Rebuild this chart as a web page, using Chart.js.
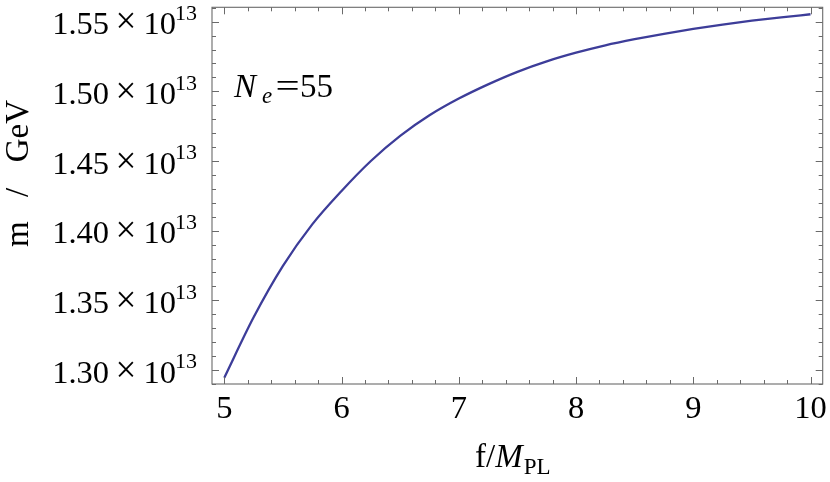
<!DOCTYPE html>
<html>
<head>
<meta charset="utf-8">
<script src="https://cdn.jsdelivr.net/npm/chart.js@4"></script>
<style>
html,body{margin:0;padding:0;background:#fff;}
#wrap{width:830px;height:482px;}
</style>
</head>
<body>
<div id="wrap"><canvas id="c" width="830" height="482"></canvas></div>
<script>
// data (f/M_PL vs m in units of 1e13 GeV)
const fValues = [5.00,5.25,5.50,5.75,6.00,6.25,6.50,6.75,7.00,7.25,7.50,7.75,8.00,8.25,8.50,8.75,9.00,9.25,9.50,9.75,10.00];
const mValues = [1.2945,1.3378,1.3747,1.4045,1.4285,1.4500,1.4680,1.4828,1.4948,1.5050,1.5140,1.5215,1.5277,1.5330,1.5374,1.5413,1.5448,1.5479,1.5507,1.5531,1.5553];
const xTickValues = [5,6,7,8,9,10];
const xTickLabels = ['5','6','7','8','9','10'];
const yTickValues = [1.30,1.35,1.40,1.45,1.50,1.55];
const yTickLabels = ['1.30','1.35','1.40','1.45','1.50','1.55'];
const yExponent = '13';
const xMinorStep = 0.2, yMinorStep = 0.01;
const xRange = [4.895, 10.104];
const yRange = [1.28995, 1.5603];

const SERIF = '"Liberation Serif", "DejaVu Serif", serif';
const FRAME = '#6a6a6a';

const framePlugin = {
  id: 'framePlugin',
  afterDraw(chart) {
    const ctx = chart.ctx;
    const a = chart.chartArea;
    const xs = chart.scales.x, ys = chart.scales.y;
    ctx.save();
    // frame
    ctx.strokeStyle = FRAME;
    ctx.lineWidth = 1.1;
    ctx.strokeRect(a.left, a.top, a.right - a.left, a.bottom - a.top);
    // x ticks
    ctx.lineWidth = 1;
    const xStart = Math.ceil(xRange[0] / xMinorStep - 1e-6);
    const xEnd = Math.floor(xRange[1] / xMinorStep + 1e-6);
    for (let i = xStart; i <= xEnd; i++) {
      const v = i * xMinorStep;
      const isMajor = Math.abs(v - Math.round(v)) < 1e-6;
      const len = isMajor ? 7 : 4;
      const px = Math.round(xs.getPixelForValue(v)) + 0.5;
      ctx.beginPath();
      ctx.moveTo(px, a.bottom); ctx.lineTo(px, a.bottom - len);
      ctx.moveTo(px, a.top); ctx.lineTo(px, a.top + len);
      ctx.stroke();
    }
    // y ticks
    const yStart = Math.ceil(yRange[0] / yMinorStep - 1e-6);
    const yEnd = Math.floor(yRange[1] / yMinorStep + 1e-6);
    for (let i = yStart; i <= yEnd; i++) {
      const v = i * yMinorStep;
      const isMajor = (i % 5) === 0;
      const len = isMajor ? 7 : 4;
      const py = Math.round(ys.getPixelForValue(v)) + 0.5;
      ctx.beginPath();
      ctx.moveTo(a.left, py); ctx.lineTo(a.left + len, py);
      ctx.moveTo(a.right, py); ctx.lineTo(a.right - len, py);
      ctx.stroke();
    }
    // x tick labels
    ctx.fillStyle = '#000';
    ctx.font = '32.5px ' + SERIF;
    ctx.textAlign = 'center';
    ctx.textBaseline = 'alphabetic';
    xTickValues.forEach((v, i) => {
      ctx.fillText(xTickLabels[i], xs.getPixelForValue(v), a.bottom + 33.5);
    });
    // y tick labels: mantissa × 10^exp
    yTickValues.forEach((v, i) => {
      const py = ys.getPixelForValue(v);
      const base = py + 12.8;
      ctx.font = '32.5px ' + SERIF;
      ctx.textAlign = 'right';
      ctx.fillText(yTickLabels[i], a.left - 103, base);
      ctx.textAlign = 'right';
      ctx.fillText('10', a.left - 36, base);
      ctx.font = '37px ' + SERIF;
      ctx.textAlign = 'center';
      ctx.fillText('\u00D7', a.left - 86, base - 1);
      ctx.font = '22px ' + SERIF;
      ctx.textAlign = 'left';
      ctx.fillText(yExponent, a.left - 37, py - 1.5);
    });
    // x axis title: f/M_PL
    {
      let x = 475;
      const b = 467;
      ctx.textAlign = 'left';
      ctx.font = '33px ' + SERIF;
      ctx.fillText('f/', x, b); x += ctx.measureText('f/').width;
      ctx.font = 'italic 33px ' + SERIF;
      ctx.fillText('M', x, b); x += ctx.measureText('M').width + 1;
      ctx.font = '23px ' + SERIF;
      ctx.fillText('PL', x, b + 6.5);
    }
    // y axis title: m / GeV (rotated)
    {
      ctx.save();
      ctx.translate(28, 247);
      ctx.rotate(-Math.PI / 2);
      ctx.font = '33px ' + SERIF;
      ctx.textAlign = 'left';
      ctx.fillText('m', 0, 0);
      ctx.fillText('/', 50, 0);
      ctx.textAlign = 'right';
      ctx.fillText('GeV', 147, 0);
      ctx.restore();
    }
    // annotation N_e=55
    {
      const b = 96.7;
      ctx.textAlign = 'left';
      ctx.font = 'italic 33px ' + SERIF;
      ctx.fillText('N', 234, b);
      ctx.font = 'italic 23px ' + SERIF;
      ctx.fillText('e', 262, b + 6);
      ctx.font = '33px ' + SERIF;
      ctx.save();
      ctx.translate(287.5, b);
      ctx.scale(1.3, 1);
      ctx.textAlign = 'center';
      ctx.fillText('=', 0, 0);
      ctx.restore();
      ctx.textAlign = 'left';
      ctx.fillText('55', 300, b);
    }
    ctx.restore();
  }
};

new Chart(document.getElementById('c'), {
  type: 'line',
  data: {
    datasets: [{
      data: fValues.map((f, i) => ({ x: f, y: mValues[i] })),
      borderColor: '#3d3d99',
      borderWidth: 2.3,
      pointRadius: 0,
      cubicInterpolationMode: 'monotone',
      fill: false
    }]
  },
  options: {
    responsive: false,
    animation: false,
    devicePixelRatio: 1,
    layout: { padding: { left: 212, right: 7.3, top: 7.3, bottom: 98 } },
    plugins: { legend: { display: false }, tooltip: { enabled: false } },
    scales: {
      x: { type: 'linear', min: xRange[0], max: xRange[1], display: false },
      y: { type: 'linear', min: yRange[0], max: yRange[1], display: false }
    }
  },
  plugins: [framePlugin]
});
</script>
</body>
</html>
